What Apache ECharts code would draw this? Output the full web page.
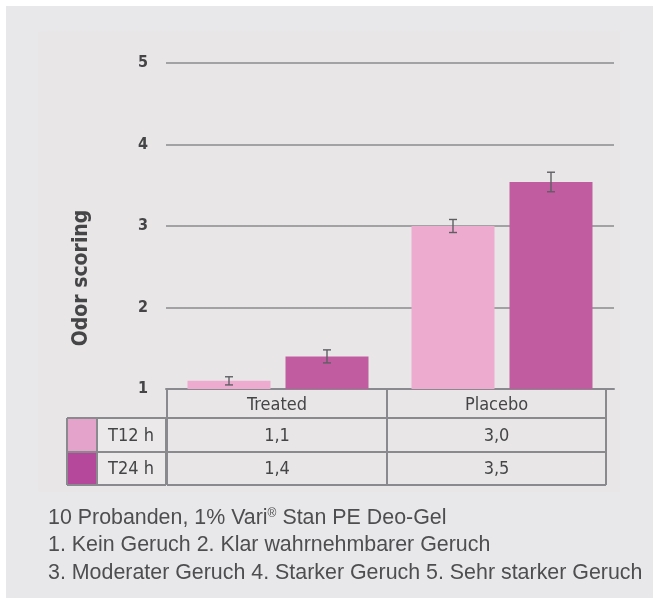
<!DOCTYPE html>
<html>
<head>
<meta charset="utf-8">
<script src="https://cdn.jsdelivr.net/npm/echarts@6/dist/echarts.min.js"></script>
<style>
  html, body { margin: 0; padding: 0; background: #fff; }
  #chart { width: 653px; height: 598px; }
</style>
</head>
<body>
<div id="chart"></div>
<script>
var categories = ['Treated', 'Placebo'];
var seriesNames = ['T12 h', 'T24 h'];
var t12 = [1.1, 3.0];
var t24 = [1.4, 3.54];
var t12Err = [0.05, 0.08];
var t24Err = [0.08, 0.12];
var t12Labels = ['1,1', '3,0'];
var t24Labels = ['1,4', '3,5'];
var footnotes = [
  '1. Kein Geruch 2. Klar wahrnehmbarer Geruch',
  '3. Moderater Geruch 4. Starker Geruch 5. Sehr starker Geruch'
];

var lightPink = '#eeabd0';
var darkPink = '#c25ca1';
var textCol = '#454547';
var lineCol = '#8a8a8e';
var tableFont = '"DejaVu Sans Condensed", "DejaVu Sans", sans-serif';
var noteFont = '21.4px "Liberation Sans", Arial, sans-serif';

var chartDom = document.getElementById('chart');
var myChart = echarts.init(chartDom);

var barWidth = 83;
var barGapPx = 15;

var errData = [];
t12.forEach(function (v, i) { errData.push([i, v, t12Err[i], 0]); });
t24.forEach(function (v, i) { errData.push([i, v, t24Err[i], 1]); });

function renderErr(params, api) {
  var idx = api.value(0), v = api.value(1), e = api.value(2), s = api.value(3);
  var off = (s === 0 ? -1 : 1) * (barWidth + barGapPx) / 2;
  var top = api.coord([idx, v + e]);
  var bot = api.coord([idx, v - e]);
  var x = top[0] + off;
  var st = { stroke: '#5f5f63', lineWidth: 1.4 };
  return {
    type: 'group',
    children: [
      { type: 'line', shape: { x1: x, y1: top[1], x2: x, y2: bot[1] }, style: st },
      { type: 'line', shape: { x1: x - 4, y1: top[1], x2: x + 4, y2: top[1] }, style: st },
      { type: 'line', shape: { x1: x - 4, y1: bot[1], x2: x + 4, y2: bot[1] }, style: st }
    ]
  };
}

// table below the plot
var tbl = [];
var rowY = [389, 418, 452, 485];
var colX = [167, 387, 606];
function hline(x1, x2, y) {
  return { type: 'line', shape: { x1: x1, y1: y, x2: x2, y2: y }, style: { stroke: lineCol, lineWidth: 2 }, z: 10 };
}
function vline(x, y1, y2) {
  return { type: 'line', shape: { x1: x, y1: y1, x2: x, y2: y2 }, style: { stroke: lineCol, lineWidth: 2 }, z: 10 };
}
function cellText(txt, cx, cy) {
  return { type: 'text', x: cx, y: cy, z: 11,
    style: { text: txt, fill: textCol, font: '18px ' + tableFont, align: 'center', verticalAlign: 'middle' } };
}
// swatches
tbl.push({ type: 'rect', shape: { x: 67, y: rowY[1], width: 30, height: rowY[2] - rowY[1] }, style: { fill: '#e3a3cb' }, z: 9 });
tbl.push({ type: 'rect', shape: { x: 67, y: rowY[2], width: 30, height: rowY[3] - rowY[2] }, style: { fill: '#b6489b' }, z: 9 });
tbl.push({ type: 'rect', shape: { x: 97, y: rowY[1], width: 69, height: rowY[3] - rowY[1] }, style: { fill: '#ebe9ea' }, z: 9 });
tbl.push(hline(67, 166, rowY[1]), hline(67, 166, rowY[2]), hline(67, 166, rowY[3]));
tbl.push(vline(67, rowY[1], rowY[3]), vline(97, rowY[1], rowY[3]), vline(166, rowY[1], rowY[3]));
tbl.push(hline(colX[0], colX[2], rowY[1]), hline(colX[0], colX[2], rowY[2]), hline(colX[0], colX[2], rowY[3]));
tbl.push(vline(colX[0], rowY[0], rowY[3]), vline(colX[1], rowY[0], rowY[3]), vline(colX[2], rowY[0], rowY[3]));
seriesNames.forEach(function (n, r) {
  tbl.push(cellText(n, 131, (rowY[r + 1] + rowY[r + 2]) / 2 + 1));
});
categories.forEach(function (c, i) {
  var cx = (colX[i] + colX[i + 1]) / 2;
  tbl.push(cellText(c, cx, (rowY[0] + rowY[1]) / 2 + 2));
  tbl.push(cellText(t12Labels[i], cx, (rowY[1] + rowY[2]) / 2 + 1));
  tbl.push(cellText(t24Labels[i], cx, (rowY[2] + rowY[3]) / 2 + 1));
});

var graphics = [
  { type: 'rect', shape: { x: 6, y: 6, width: 647, height: 592 }, style: { fill: '#e8e8ea' }, z: -10 },
  { type: 'rect', shape: { x: 38, y: 31, width: 582, height: 461 }, style: { fill: '#e9e6e7' }, z: -9 },
  { type: 'text', x: 82, y: 278, rotation: Math.PI / 2, z: 5,
    style: { text: 'Odor scoring', fill: textCol, font: 'bold 21px ' + tableFont, align: 'center', verticalAlign: 'middle' } },
  { type: 'text', x: 48, y: 518, z: 5,
    style: {
      text: '{a|10 Probanden, 1% Vari}{s|®}{a| Stan PE Deo-Gel}',
      verticalAlign: 'middle',
      rich: {
        a: { fill: '#4e4e50', font: noteFont },
        s: { fill: '#4e4e50', font: '12px "Liberation Sans", Arial, sans-serif', verticalAlign: 'top', padding: [0, 0, 9, 0] }
      }
    } }
].concat(footnotes.map(function (t, i) {
  return { type: 'text', x: 48, y: 545 + i * 28, z: 5,
    style: { text: t, fill: '#4e4e50', font: noteFont, verticalAlign: 'middle' } };
})).concat(tbl);

var option = {
  backgroundColor: '#ffffff',
  animation: false,
  grid: { left: 166, right: 39, top: 63, bottom: 209, containLabel: false },
  xAxis: {
    type: 'category',
    data: categories,
    axisLine: { show: true, lineStyle: { color: lineCol, width: 2 } },
    axisTick: { show: false },
    axisLabel: { show: false }
  },
  yAxis: {
    type: 'value',
    min: 1,
    max: 5,
    interval: 1,
    axisLine: { show: false },
    axisTick: { show: false },
    axisLabel: { color: textCol, fontSize: 16, fontWeight: 'bold', margin: 18, fontFamily: tableFont },
    splitLine: { lineStyle: { color: lineCol, width: 1.5 } }
  },
  series: [
    { name: seriesNames[0], type: 'bar', data: t12, barWidth: barWidth, barGap: (barGapPx / barWidth * 100) + '%',
      itemStyle: { color: lightPink } },
    { name: seriesNames[1], type: 'bar', data: t24, barWidth: barWidth,
      itemStyle: { color: darkPink } },
    { type: 'custom', data: errData, renderItem: renderErr, z: 5 }
  ],
  graphic: graphics
};

option && myChart.setOption(option);
</script>
</body>
</html>
